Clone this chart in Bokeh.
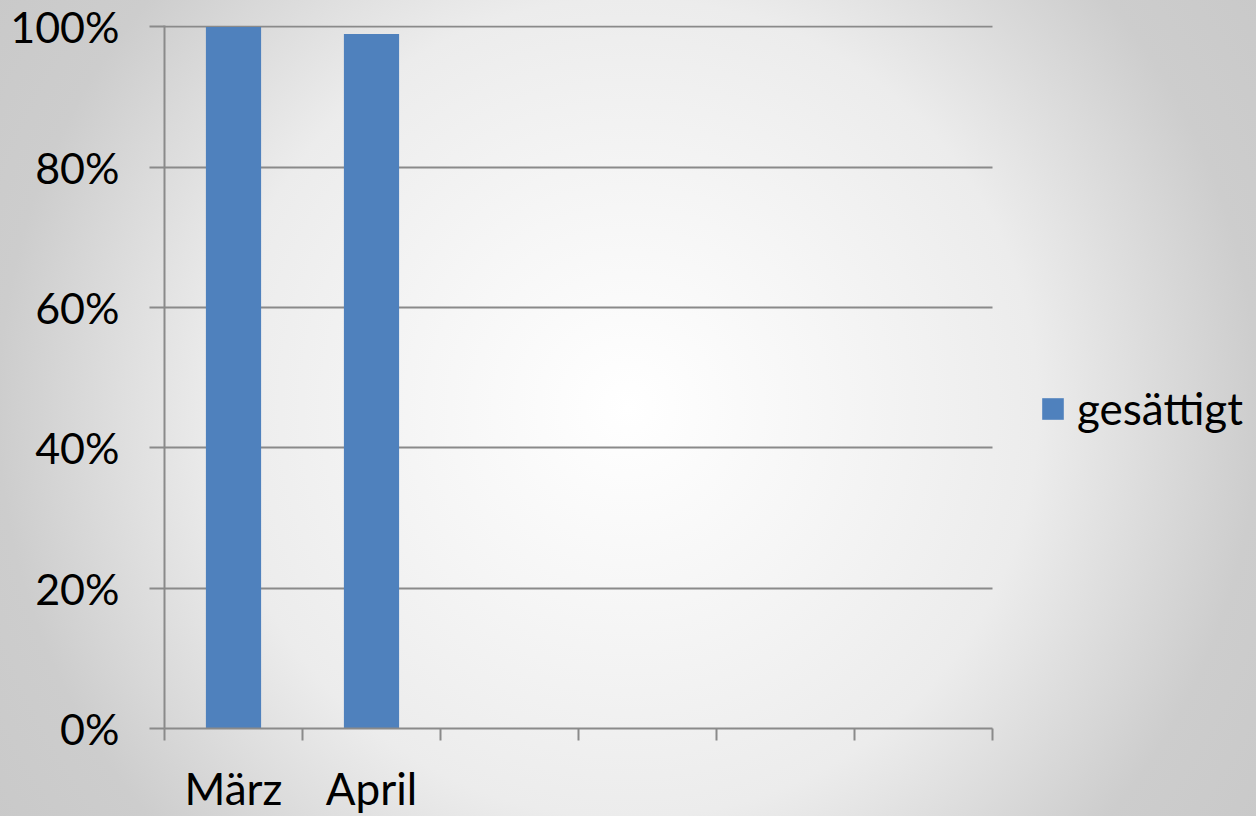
from bokeh.plotting import figure
from bokeh.models import (Range1d, FixedTicker, NumeralTickFormatter, Legend, LegendItem)
from bokeh.embed import file_html
from bokeh.resources import INLINE

categories = ["März", "April", "", "", "", ""]
values = [1.0, 0.99]
series_name = "gesättigt"
y_ticks = [0, 0.2, 0.4, 0.6, 0.8, 1.0]

FONT = "Lato"
GRID = "#8a8a8a"
BAR = "#4f81bd"

W, H = 1256, 816
LEFT, PLOT_RIGHT, TOP, BOTTOM = 164, 992, 25, 730
n = len(categories)
x_end = n * (W - LEFT) / (PLOT_RIGHT - LEFT)  # frame runs to the window edge; axes/grid bounded to the categories

p = figure(width=W, height=H, output_backend="svg", toolbar_location=None,
           x_range=Range1d(0, x_end), y_range=Range1d(0, 1.002),
           min_border_left=LEFT, min_border_right=0, min_border_top=TOP, min_border_bottom=H - BOTTOM)
p.styles = {"background": "radial-gradient(circle at 50% 50%, #ffffff 0px, #f6f6f6 200px, #ececec 410px, #cdcdcd 630px, #c9c9c9 760px)"}
p.background_fill_color = None
p.border_fill_color = None
p.outline_line_color = None

xs = [i + 0.5 for i in range(len(values))]
bars = p.vbar(x=xs, top=values, width=0.4, fill_color=BAR, line_color=None)

# x axis
centers = [i + 0.5 for i in range(n)]
bounds = list(range(n + 1))
xa = p.xaxis[0]
xa.bounds = (0, n)
xa.ticker = FixedTicker(ticks=centers, minor_ticks=bounds)
xa.major_label_overrides = {c: lab for c, lab in zip(centers, categories)}
xa.major_tick_line_color = None
xa.major_tick_out = 0
xa.major_tick_in = 0
xa.minor_tick_line_color = GRID
xa.minor_tick_line_width = 2
xa.minor_tick_out = 12
xa.minor_tick_in = 0
xa.axis_line_color = GRID
xa.axis_line_width = 2
xa.major_label_text_font = FONT
xa.major_label_text_font_size = "44px"
xa.major_label_text_color = "#000000"
xa.major_label_standoff = 21

# y axis
ya = p.yaxis[0]
ya.ticker = FixedTicker(ticks=y_ticks)
ya.formatter = NumeralTickFormatter(format="0%")
ya.major_tick_line_color = GRID
ya.major_tick_line_width = 2
ya.major_tick_out = 15
ya.major_tick_in = 0
ya.minor_tick_line_color = None
ya.axis_line_color = GRID
ya.axis_line_width = 2
ya.major_label_text_font = FONT
ya.major_label_text_font_size = "43px"
ya.major_label_text_color = "#000000"
ya.major_label_standoff = 30

p.xgrid.visible = False
p.ygrid.grid_line_color = GRID
p.ygrid.grid_line_width = 2
p.ygrid.cross_bounds = (0, n)

legend = Legend(items=[LegendItem(label=series_name, renderers=[bars])],
                location=(875, 294), orientation="vertical",
                background_fill_alpha=0, border_line_color=None,
                glyph_width=27, glyph_height=27, label_standoff=11,
                padding=0, margin=0,
                label_text_font=FONT, label_text_font_size="44px", label_text_color="#000000")
p.add_layout(legend, "center")

open("out.html", "w").write(file_html(p, INLINE))
